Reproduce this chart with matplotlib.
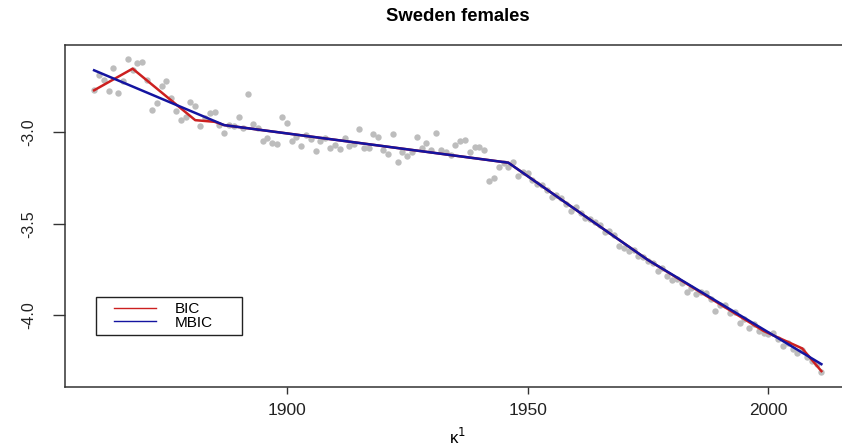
import numpy as np
import matplotlib.pyplot as plt
from matplotlib.lines import Line2D
from matplotlib.patches import Rectangle

plt.rcParams['font.family'] = ['Liberation Sans', 'DejaVu Sans']

years = np.arange(1860, 2012)
kappa = [
    -2.772, -2.690, -2.717, -2.777, -2.651, -2.788, -2.723, -2.601, -2.663, -2.623,  # 1860s
    -2.620, -2.717, -2.879, -2.844, -2.746, -2.719, -2.815, -2.886, -2.935, -2.917,  # 1870s
    -2.837, -2.857, -2.967, -2.924, -2.898, -2.891, -2.964, -3.004, -2.960, -2.967,  # 1880s
    -2.917, -2.978, -2.793, -2.958, -2.978, -3.049, -3.034, -3.058, -3.067, -2.917,  # 1890s
    -2.949, -3.047, -3.026, -3.076, -3.016, -3.038, -3.103, -3.049, -3.033, -3.085,  # 1900s
    -3.071, -3.094, -3.034, -3.076, -3.067, -2.984, -3.085, -3.085, -3.013, -3.026,  # 1910s
    -3.098, -3.121, -3.013, -3.161, -3.110, -3.130, -3.107, -3.026, -3.089, -3.061,  # 1920s
    -3.098, -3.004, -3.098, -3.109, -3.125, -3.071, -3.049, -3.043, -3.107, -3.080,  # 1930s
    -3.083, -3.099, -3.266, -3.252, -3.189, -3.168, -3.189, -3.161, -3.239, -3.217,  # 1940s
    -3.224, -3.261, -3.283, -3.288, -3.315, -3.352, -3.342, -3.359, -3.391, -3.433,  # 1950s
    -3.409, -3.440, -3.467, -3.473, -3.489, -3.505, -3.547, -3.538, -3.560, -3.620,  # 1960s
    -3.632, -3.651, -3.641, -3.678, -3.679, -3.705, -3.712, -3.759, -3.739, -3.783,  # 1970s
    -3.808, -3.799, -3.826, -3.873, -3.853, -3.886, -3.870, -3.880, -3.913, -3.977,  # 1980s
    -3.946, -3.946, -3.985, -3.984, -4.043, -4.022, -4.067, -4.049, -4.085, -4.094,  # 1990s
    -4.103, -4.098, -4.130, -4.167, -4.152, -4.185, -4.203, -4.190, -4.228, -4.250,  # 2000s
    -4.266, -4.308,
]

# piecewise linear fits (breakpoints)
bic_years = [1860, 1868, 1881, 1885, 1887, 1946, 1975, 1999, 2007, 2011]
bic_vals = [-2.772, -2.654, -2.935, -2.944, -2.962, -3.167, -3.698, -4.085, -4.180, -4.304]
mbic_years = [1860, 1887, 1946, 1975, 2011]
mbic_vals = [-2.663, -2.962, -3.167, -3.698, -4.266]

fig = plt.figure(figsize=(8.42, 4.46), dpi=100)
ax_w, ax_h = 785.5, 341.7
ax = fig.add_axes([65 / 842, 59.3 / 446, ax_w / 842, ax_h / 446])

ax.plot(years, kappa, 'o', color='#bdbdbd', markersize=4.6, markeredgewidth=0)
ax.plot(bic_years, bic_vals, color='#cc2020', lw=1.8)
ax.plot(mbic_years, mbic_vals, color='#1414a0', lw=1.8)

ax.set_xlim(1853.96, 2017.04)
ax.set_ylim(-4.389, -2.525)

ax.set_xticks([1900, 1950, 2000])
ax.set_xticklabels(['1900', '1950', '2000'], fontsize=12.5, color='#222222')
ax.set_yticks([-3.0, -3.5, -4.0])
ax.set_yticklabels(['-3.0', '-3.5', '-4.0'], fontsize=11.5, color='#222222',
                   rotation=90, va='center')
ax.tick_params(axis='x', length=5, width=1, color='#333333', pad=7)
ax.tick_params(axis='y', length=8.5, width=1, color='#333333', pad=12)

for side in ax.spines.values():
    side.set_color('#333333')
    side.set_linewidth(1.1)

ax.set_title('Sweden females', fontsize=13.3, fontweight='bold', pad=17)
ax.set_xlabel('κ$^1$', fontsize=12, labelpad=6)

# legend box, R style (square frame, tight rows)
box_x, box_y = 30.7 / ax_w, (386.7 - 335) / ax_h
box_w, box_h = 146 / ax_w, 38 / ax_h
box = Rectangle((box_x, box_y), box_w, box_h, transform=ax.transAxes,
                facecolor='white', edgecolor='#222222', lw=1.0, zorder=5)
ax.add_patch(box)
handles = [Line2D([], [], color='#cc2020', lw=1),
           Line2D([], [], color='#1414a0', lw=1)]
leg = ax.legend(handles, ['BIC', 'MBIC'], loc='center left',
                bbox_to_anchor=(box_x + 18 / ax_w, box_y + box_h / 2),
                fontsize=11, frameon=False, borderaxespad=0,
                labelspacing=-0.05, handlelength=2.8, handletextpad=1.2,
                borderpad=0.0)
leg.set_zorder(6)

fig.savefig('out.png', dpi=100)
